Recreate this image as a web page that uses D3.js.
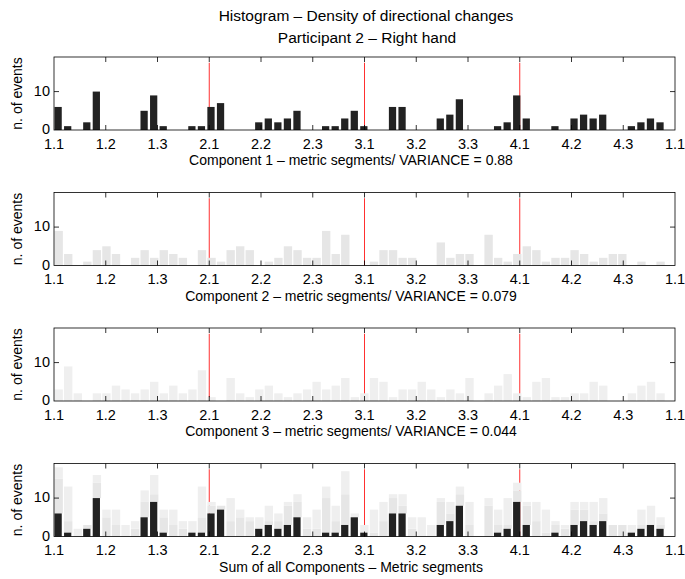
<!DOCTYPE html>
<html lang="en">
<head>
    <meta charset="UTF-8">
    <title>Histogram - Density of directional changes</title>
    <script src="https://cdn.jsdelivr.net/npm/d3@7"></script>
    <style>
        body { margin: 0; background: #fff; }
        text { font-family: "Liberation Sans", Arial, Helvetica, sans-serif; fill: #000; }
    </style>
</head>
<body>
<script>
    // data: counts per bin (65 bins), one array per component
    const tickLabels = ['1.1', '1.2', '1.3', '2.1', '2.2', '2.3', '3.1', '3.2', '3.3', '4.1', '4.2', '4.3', '1.1']
    const comp1 = [6, 1, 0, 2, 10, 0, 0, 0, 0, 5, 9, 1, 0, 0, 1, 1, 6, 7, 0, 0, 0, 2, 3, 2, 3, 5, 0, 0, 1, 1, 3, 5, 1,
        0, 0, 6, 6, 0, 0, 0, 3, 4, 8, 0, 0, 0, 1, 2, 9, 3, 0, 0, 1, 0, 3, 4, 3, 4, 0, 0, 1, 2, 3, 2, 0]
    const comp2 = [9, 3, 0, 1, 4, 5, 3, 0, 2, 4, 2, 4, 3, 2, 0, 4, 2, 1, 4, 5, 4, 0, 1, 2, 5, 4, 2, 2, 9, 3, 8, 0, 0,
        1, 4, 4, 2, 2, 0, 0, 6, 2, 3, 3, 0, 8, 2, 1, 3, 5, 4, 1, 2, 2, 4, 3, 1, 2, 3, 3, 0, 1, 0, 1, 0]
    const comp3 = [3, 9, 2, 0, 2, 2, 4, 3, 2, 3, 5, 2, 4, 2, 3, 8, 1, 0, 6, 2, 1, 3, 4, 2, 1, 2, 3, 5, 3, 4, 6, 1, 2,
        6, 5, 1, 3, 3, 5, 3, 1, 3, 2, 6, 0, 2, 4, 7, 2, 1, 5, 6, 1, 1, 2, 2, 5, 4, 0, 0, 2, 4, 5, 2, 0]
    const xLabels = [
        'Component 1 \u2013 metric segments/ VARIANCE = 0.88',
        'Component 2 \u2013 metric segments/ VARIANCE = 0.079',
        'Component 3 \u2013 metric segments/ VARIANCE = 0.044',
        'Sum of all Components \u2013 Metric segments'
    ]
    const markerTicks = [3, 6, 9]   // red lines at 2.1, 3.1, 4.1
    const markerHeight = 17.5
    const yMax = 19

    const width = 685, height = 579
    const left = 54, right = 675, panelTop = 57, panelH = 73, panelGap = 135.5
    const nBins = comp1.length
    const colors = ['#222222', '#e6e6e6', '#efefef']

    const svg = d3.select('body').append('svg')
        .attr('width', width)
        .attr('height', height)

    svg.append('text')
        .attr('x', 366).attr('y', 21)
        .attr('text-anchor', 'middle')
        .style('font-size', '15.5px')
        .text('Histogram \u2013 Density of directional changes')
    svg.append('text')
        .attr('x', 367).attr('y', 43)
        .attr('text-anchor', 'middle')
        .style('font-size', '15.5px')
        .text('Participant 2 \u2013 Right hand')

    const x = d3.scaleLinear().domain([0, nBins]).range([left, right])
    const step = x(1) - x(0)
    const tickVals = tickLabels.map((d, i) => i * nBins / 12)

    // each panel: list of layers, stacked from the bottom
    const panels = [
        [{values: comp1, color: colors[0]}],
        [{values: comp2, color: colors[1]}],
        [{values: comp3, color: colors[2]}],
        [{values: comp1, color: colors[0]}, {values: comp2, color: colors[1]}, {values: comp3, color: colors[2]}]
    ]

    panels.forEach((layers, p) => {
        const top = panelTop + p * panelGap
        const bottom = top + panelH
        const y = d3.scaleLinear().domain([0, yMax]).range([bottom, top])
        const g = svg.append('g').attr('class', 'panel')

        // red markers behind the bars
        g.selectAll('line.marker').data(markerTicks).enter().append('line')
            .attr('class', 'marker')
            .attr('x1', d => x(tickVals[d])).attr('x2', d => x(tickVals[d]))
            .attr('y1', y(0)).attr('y2', y(markerHeight))
            .attr('stroke', '#ff3030')
            .attr('stroke-width', 1)

        // stacked bars, gray layers drawn first so the black ones sit on top
        const stacked = d3.stack()
            .keys(layers.map((l, i) => i))
            .value((d, k) => layers[k].values[d])(d3.range(nBins))
        const order = d3.range(layers.length).sort((a, b) => (layers[a].color === colors[0]) - (layers[b].color === colors[0]))
        order.forEach(k => {
            const isBlack = layers[k].color === colors[0]
            g.selectAll(null).data(stacked[k].map((s, i) => ({i: i, y0: s[0], y1: s[1]})).filter(d => d.y1 > d.y0))
                .enter().append('rect')
                .attr('x', d => x(d.i) + 0.5)
                .attr('width', isBlack ? step - 2.3 : step - 1.2)
                .attr('y', d => y(d.y1))
                .attr('height', d => y(d.y0) - y(d.y1))
                .attr('fill', layers[k].color)
        })

        // box
        g.append('rect')
            .attr('x', left).attr('y', top)
            .attr('width', right - left).attr('height', panelH)
            .attr('fill', 'none')
            .attr('stroke', '#000')
            .attr('stroke-width', 0.8)

        // inward ticks, top and bottom
        tickVals.slice(1, -1).forEach(t => {
            g.append('line').attr('x1', x(t)).attr('x2', x(t))
                .attr('y1', bottom).attr('y2', bottom - 5)
                .attr('stroke', '#000').attr('stroke-width', 0.8)
            g.append('line').attr('x1', x(t)).attr('x2', x(t))
                .attr('y1', top).attr('y2', top + 5)
                .attr('stroke', '#000').attr('stroke-width', 0.8)
        })
        g.append('line').attr('x1', left).attr('x2', left + 5)
            .attr('y1', y(10)).attr('y2', y(10)).attr('stroke', '#000').attr('stroke-width', 0.8)
        g.append('line').attr('x1', right).attr('x2', right - 5)
            .attr('y1', y(10)).attr('y2', y(10)).attr('stroke', '#000').attr('stroke-width', 0.8)

        g.selectAll('text.xtick').data(tickLabels).enter().append('text')
            .attr('class', 'xtick')
            .attr('x', (d, i) => x(tickVals[i]))
            .attr('y', bottom + 18.5)
            .attr('text-anchor', 'middle')
            .style('font-size', '14.5px')
            .text(d => d)

        g.selectAll('text.ytick').data([0, 10]).enter().append('text')
            .attr('class', 'ytick')
            .attr('x', left - 4)
            .attr('y', d => y(d) + 4)
            .attr('text-anchor', 'end')
            .style('font-size', '14.5px')
            .text(d => d)

        g.append('text')
            .attr('transform', `translate(22, ${(top + bottom) / 2}) rotate(-90)`)
            .attr('text-anchor', 'middle')
            .style('font-size', '14px')
            .text('n. of events')

        g.append('text')
            .attr('x', 351)
            .attr('y', bottom + 35)
            .attr('text-anchor', 'middle')
            .style('font-size', '14px')
            .text(xLabels[p])
    })
</script>
</body>
</html>
